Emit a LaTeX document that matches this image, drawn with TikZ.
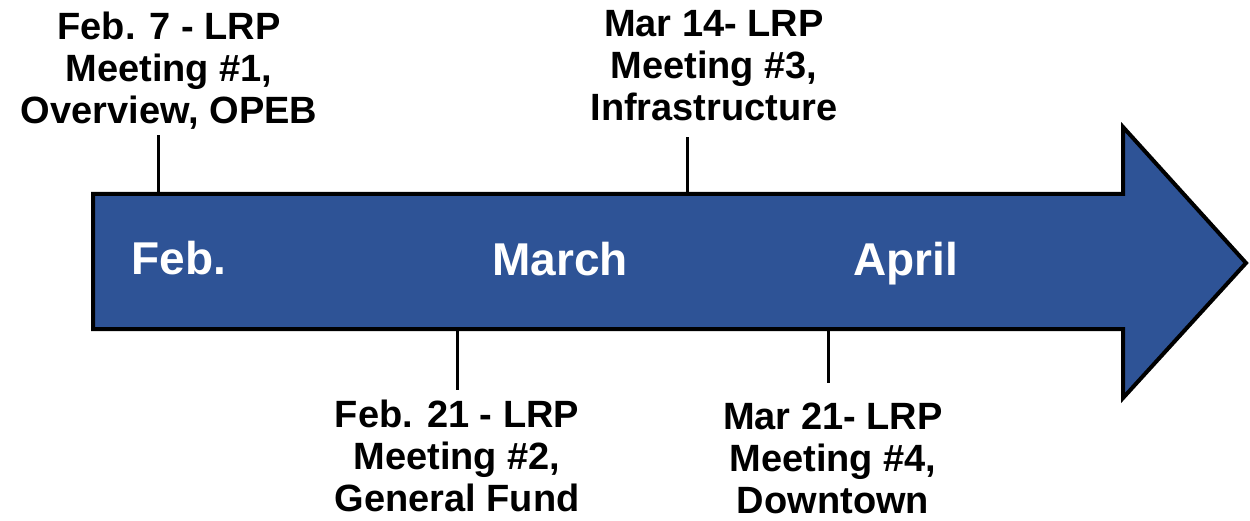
\documentclass[tikz,border=0pt]{standalone}
\usepackage{fontspec}
\setmainfont{Liberation Sans}
\usepackage{xcolor}
\usepackage{tikz}
\usetikzlibrary{calc}

\definecolor{arrowblue}{RGB}{46,83,150}

\tikzset{
    meeting/.style={align=center, inner sep=0pt, anchor=north,
        font=\fontsize{38}{42}\selectfont\bfseries},
    month/.style={inner sep=0pt, anchor=base, text=white,
        font=\fontsize{46}{50}\selectfont\bfseries},
    tick/.style={line width=3pt}
}

\begin{document}
\begin{tikzpicture}[x=1pt, y=-1pt]
        \useasboundingbox (0, 0) rectangle (1250, 521);

        % timeline arrow
        \draw[fill=arrowblue, line width=4pt, line join=miter] plot coordinates {
                (93, 194)
                (1123, 194)
                (1123, 127)
                (1246, 263)
                (1123, 398)
                (1123, 329)
                (93, 329)
            } -- cycle;

        \node[month] (feb) at (179, 275) {Feb.};
        \node[month] (mar) at (560, 276) {March};
        \node[month] (apr) at (906, 276) {April};

        % meetings above
        \node[meeting] (m1) at (169, 12) {Feb. 7 - LRP\\Meeting \#1,\\Overview, OPEB};
        \node[meeting] (m3) at (714, 10) {Mar 14- LRP\\Meeting \#3,\\Infrastructure};
        \coordinate (t1) at (158, 194);
        \coordinate (t3) at (687, 194);
        \draw[tick] (t1) -- (t1 |- 0, 135);
        \draw[tick] (t3) -- (t3 |- 0, 137);

        % meetings below
        \node[meeting] (m2) at (457, 400) {Feb. 21 - LRP\\Meeting \#2,\\General Fund};
        \node[meeting] (m4) at (833, 403) {Mar 21- LRP\\Meeting \#4,\\Downtown};
        \coordinate (t2) at (457, 329);
        \coordinate (t4) at (828, 329);
        \draw[tick] (t2) -- ($(t2 |- m2.north) + (0, -10)$);
        \draw[tick] (t4) -- ($(t4 |- m4.north) + (0, -20)$);
    \end{tikzpicture}
\end{document}
